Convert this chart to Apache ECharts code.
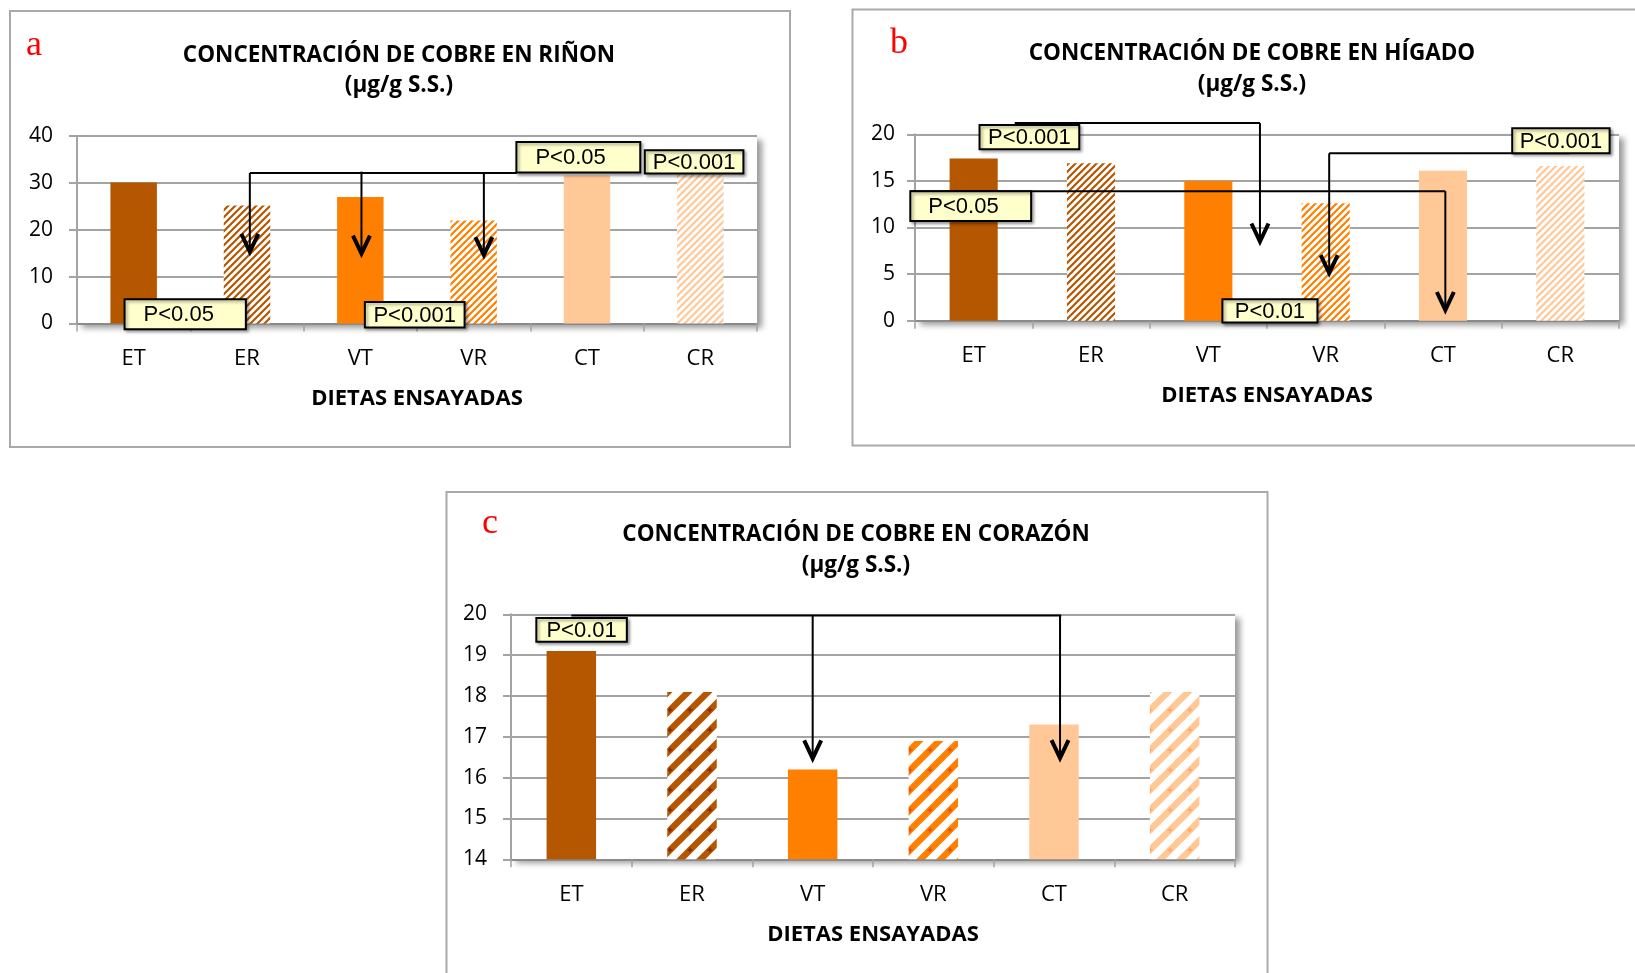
<!DOCTYPE html>
<html>
<head>
<meta charset="utf-8">
<script src="https://cdn.jsdelivr.net/npm/echarts@6.0.0/dist/echarts.min.js"></script>
<style>
  html, body { margin: 0; padding: 0; background: #ffffff; }
  #chart { width: 1635px; height: 973px; }
</style>
</head>
<body>
<div id="chart"></div>
<script>
// Diet groups tested
const categories = ['ET', 'ER', 'VT', 'VR', 'CT', 'CR'];

// Copper concentration, µg/g S.S.
const rinon   = [30.1, 25.2, 27.0, 22.0, 31.6, 31.8];
const higado  = [17.4, 16.9, 15.0, 12.6, 16.1, 16.6];
const corazon = [19.1, 18.1, 16.2, 16.9, 17.3, 18.1];

// Value axis ranges
const rinonTicks   = { min: 0,  max: 40, interval: 10 };
const higadoTicks  = { min: 0,  max: 20, interval: 5 };
const corazonTicks = { min: 14, max: 20, interval: 1 };

// Texts
const panelTags = ['a', 'b', 'c'];
const titles = [
  'CONCENTRACIÓN DE COBRE EN RIÑON',
  'CONCENTRACIÓN DE COBRE EN HÍGADO',
  'CONCENTRACIÓN DE COBRE EN CORAZÓN'
];
const unitText = '(µg/g S.S.)';
const xAxisName = 'DIETAS ENSAYADAS';

// Significance brackets, in data units (category position, value)
const connectors = [
  { g: 0, x0: 1.025, x1: 3.38, y: 32.1 },
  { g: 1, x0: 0.35,  x1: 2.44, y: 21.2 },
  { g: 1, x0: -0.54, x1: 4.02, y: 13.9 },
  { g: 1, x0: 3.03,  x1: 5.08, y: 17.96 },
  { g: 2, x0: 0.0,   x1: 4.06, y: 19.97 }
];
const arrows = [
  { g: 0, x: 1.025, top: 32.1,  tip: 15.3 },
  { g: 0, x: 2.01,  top: 32.4,  tip: 14.9 },
  { g: 0, x: 3.09,  top: 32.1,  tip: 14.6 },
  { g: 1, x: 2.44,  top: 21.2,  tip: 8.5 },
  { g: 1, x: 4.02,  top: 13.9,  tip: 1.15 },
  { g: 1, x: 3.03,  top: 17.96, tip: 5.1 },
  { g: 2, x: 2.0,   top: 19.97, tip: 16.47 },
  { g: 2, x: 4.05,  top: 19.97, tip: 16.48 }
];
const pLabels = [
  { g: 0, text: 'P<0.05',  x0: 3.377, x1: 4.47, y0: 38.7,  y1: 32.2,  inset: 19 },
  { g: 0, text: 'P<0.001', x0: 4.51,  x1: 5.38, y0: 36.95, y1: 32.0 },
  { g: 0, text: 'P<0.05',  x0: -0.08, x1: 0.99, y0: 5.2,   y1: -1.2,  inset: 19 },
  { g: 0, text: 'P<0.001', x0: 2.04,  x1: 2.92, y0: 4.6,   y1: -0.85 },
  { g: 1, text: 'P<0.001', x0: 0.05,  x1: 0.90, y0: 21.0,  y1: 18.4 },
  { g: 1, text: 'P<0.05',  x0: -0.54, x1: 0.49, y0: 13.9,  y1: 10.7,  inset: 18 },
  { g: 1, text: 'P<0.001', x0: 4.59,  x1: 5.42, y0: 20.65, y1: 17.98 },
  { g: 1, text: 'P<0.01',  x0: 2.12,  x1: 2.93, y0: 2.3,   y1: -0.2 },
  { g: 2, text: 'P<0.01',  x0: -0.29, x1: 0.46, y0: 19.91, y1: 19.33 }
];

// Bar tones: dark brown (E), orange (V), peach (C)
const tones = ['#b45700', '#ff8000', '#ffc896'];
const crossTones = ['#7a1800', '#e8400a', '#ff9e60'];

// Diagonal "/" hatch tile on white; lines overrun the tile so it tiles seamlessly
function hatch(color, period, width, crossColor) {
  const c = document.createElement('canvas');
  c.width = period; c.height = period;
  const ctx = c.getContext('2d');
  ctx.fillStyle = '#ffffff';
  ctx.fillRect(0, 0, period, period);
  ctx.strokeStyle = color;
  ctx.lineWidth = width;
  ctx.beginPath();
  for (let k = -1; k <= 1; k++) {
    ctx.moveTo(k * period - period, 2 * period);
    ctx.lineTo(k * period + 2 * period, -period);
  }
  ctx.stroke();
  if (crossColor) {
    const m = period / 2;
    ctx.strokeStyle = crossColor;
    ctx.lineWidth = 1;
    ctx.beginPath();
    ctx.moveTo(m - 2.5, m); ctx.lineTo(m + 2.5, m);
    ctx.moveTo(m, m - 2.5); ctx.lineTo(m, m + 2.5);
    ctx.stroke();
  }
  return { image: c, repeat: 'repeat' };
}

function fillsFor(big) {
  const out = [];
  tones.forEach((t, k) => {
    out.push(t);
    out.push(big ? hatch(t, 20, 6.5, crossTones[k]) : hatch(t, 7, 2.2));
  });
  return out;
}

const panels = [
  { values: rinon,   ticks: rinonTicks,   fills: fillsFor(false),
    grid: { left: 77,  top: 136,   width: 680, height: 187.5 }, labelMargin: 24 },
  { values: higado,  ticks: higadoTicks,  fills: fillsFor(false),
    grid: { left: 915, top: 134.3, width: 704, height: 186.4 }, labelMargin: 20 },
  { values: corazon, ticks: corazonTicks, fills: fillsFor(true),
    grid: { left: 511, top: 614.3, width: 724, height: 245 },   labelMargin: 24 }
];

const axisGray = '#a3a3a3';
const tickFont = '"Open Sans", "DejaVu Sans", sans-serif';

const option = {
  animation: false,
  backgroundColor: '#ffffff',
  grid: panels.map(p => Object.assign({
    show: true,
    backgroundColor: '#ffffff',
    borderWidth: 0,
    shadowColor: 'rgba(0,0,0,0.4)',
    shadowBlur: 6,
    shadowOffsetX: 5,
    shadowOffsetY: 4,
    containLabel: false,
    outerBoundsMode: 'none'
  }, p.grid)),
  xAxis: panels.map((p, g) => ({
    type: 'category',
    gridIndex: g,
    data: categories,
    boundaryGap: true,
    axisLine: { show: true, lineStyle: { color: '#8a8a8a', width: 2 } },
    axisTick: { show: true, length: 8, lineStyle: { color: axisGray, width: 1.5 } },
    axisLabel: { color: '#000', fontSize: 22, fontFamily: tickFont, margin: 24 },
    splitLine: { show: false },
    name: xAxisName,
    nameLocation: 'middle',
    nameGap: 64,
    nameTextStyle: { color: '#000', fontSize: 22, fontWeight: 'bold', fontFamily: tickFont }
  })),
  yAxis: panels.map((p, g) => ({
    type: 'value',
    gridIndex: g,
    min: p.ticks.min,
    max: p.ticks.max,
    interval: p.ticks.interval,
    axisLine: { show: true, lineStyle: { color: axisGray, width: 2 } },
    axisTick: { show: true, length: 8, lineStyle: { color: axisGray, width: 2 } },
    axisLabel: { color: '#000', fontSize: 21, fontFamily: tickFont, margin: p.labelMargin },
    splitLine: { show: true, lineStyle: { color: axisGray, width: 2 } }
  })),
  series: panels.map((p, g) => ({
    type: 'bar',
    xAxisIndex: g,
    yAxisIndex: g,
    barWidth: '41%',
    data: p.values.map((v, i) => ({ value: v, itemStyle: { color: p.fills[i] } }))
  }))
};

const chart = echarts.init(document.getElementById('chart'), null, { renderer: 'canvas', width: 1635, height: 973 });
chart.setOption(option);

// Pixel position of a (category position, value) pair in a panel
function px(g, ci, v) {
  const a = chart.convertToPixel({ gridIndex: g }, [0, v]);
  const b = chart.convertToPixel({ gridIndex: g }, [1, v]);
  return [a[0] + (b[0] - a[0]) * ci, a[1]];
}

function textEl(str, x, y, font, fill, z) {
  return {
    type: 'text', z: z || 5, silent: true,
    style: {
      text: str, x: x, y: y, font: font, fill: fill,
      textAlign: 'center', textVerticalAlign: 'middle',
      align: 'center', verticalAlign: 'middle'
    }
  };
}

const els = [];

// Panel frames
const frames = [
  { x: 10,    y: 11,  width: 780, height: 436 },
  { x: 852.5, y: 9.5, width: 800, height: 436 },
  { x: 446.5, y: 492, width: 821, height: 520 }
];
frames.forEach(f => els.push({
  type: 'rect', z: -1, silent: true, shape: f,
  style: { fill: null, stroke: '#a9a9a9', lineWidth: 2 }
}));

// Panel letters and titles
const tagPos = [[34, 46], [899, 44], [490, 524]];
const titlePos = [[399, 55.5], [1252, 54], [856, 535]];
const unitPos = [[399, 86], [1252, 84.5], [856, 566]];
const titleFont = 'bold 22.5px "Open Sans", "DejaVu Sans", sans-serif';
panelTags.forEach((t, g) => {
  els.push(textEl(t, tagPos[g][0], tagPos[g][1], '36px "Liberation Serif", "Times New Roman", serif', '#ff0000'));
  els.push(textEl(titles[g], titlePos[g][0], titlePos[g][1], titleFont, '#000'));
  els.push(textEl(unitText, unitPos[g][0], unitPos[g][1], titleFont, '#000'));
});

// Bracket lines
connectors.forEach(c => {
  const p0 = px(c.g, c.x0, c.y), p1 = px(c.g, c.x1, c.y);
  els.push({
    type: 'line', z: 20, silent: true,
    shape: { x1: p0[0], y1: p0[1], x2: p1[0], y2: p1[1] },
    style: { stroke: '#000', lineWidth: 2 }
  });
});

// Down arrows with open heads
arrows.forEach(a => {
  const t = px(a.g, a.x, a.top), b = px(a.g, a.x, a.tip);
  els.push({
    type: 'line', z: 20, silent: true,
    shape: { x1: t[0], y1: t[1], x2: b[0], y2: b[1] - 1 },
    style: { stroke: '#000', lineWidth: 2 }
  });
  els.push({
    type: 'polyline', z: 20, silent: true,
    shape: { points: [[b[0] - 8.5, b[1] - 18], [b[0], b[1]], [b[0] + 8.5, b[1] - 18]] },
    style: { stroke: '#000', lineWidth: 4, fill: null, lineJoin: 'miter' }
  });
});

// Significance labels
pLabels.forEach(l => {
  const a = px(l.g, l.x0, l.y0), b = px(l.g, l.x1, l.y1);
  const w = b[0] - a[0], h = b[1] - a[1];
  els.push({
    type: 'rect', z: 30, silent: true,
    shape: { x: a[0], y: a[1], width: w, height: h },
    style: {
      fill: '#ffffcc', stroke: '#000', lineWidth: 2,
      shadowColor: 'rgba(0,0,0,0.35)', shadowBlur: 3, shadowOffsetX: 2, shadowOffsetY: 2
    }
  });
  const font = '22px "Liberation Sans", Arial, sans-serif';
  const cy = a[1] + h / 2 + 1;
  if (l.inset) {
    els.push({
      type: 'text', z: 31, silent: true,
      style: {
        text: l.text, x: a[0] + l.inset, y: cy, font: font, fill: '#000',
        textAlign: 'left', textVerticalAlign: 'middle', align: 'left', verticalAlign: 'middle'
      }
    });
  } else {
    els.push(textEl(l.text, a[0] + w / 2, cy, font, '#000', 31));
  }
});

chart.setOption({ graphic: { elements: els } });
</script>
</body>
</html>
